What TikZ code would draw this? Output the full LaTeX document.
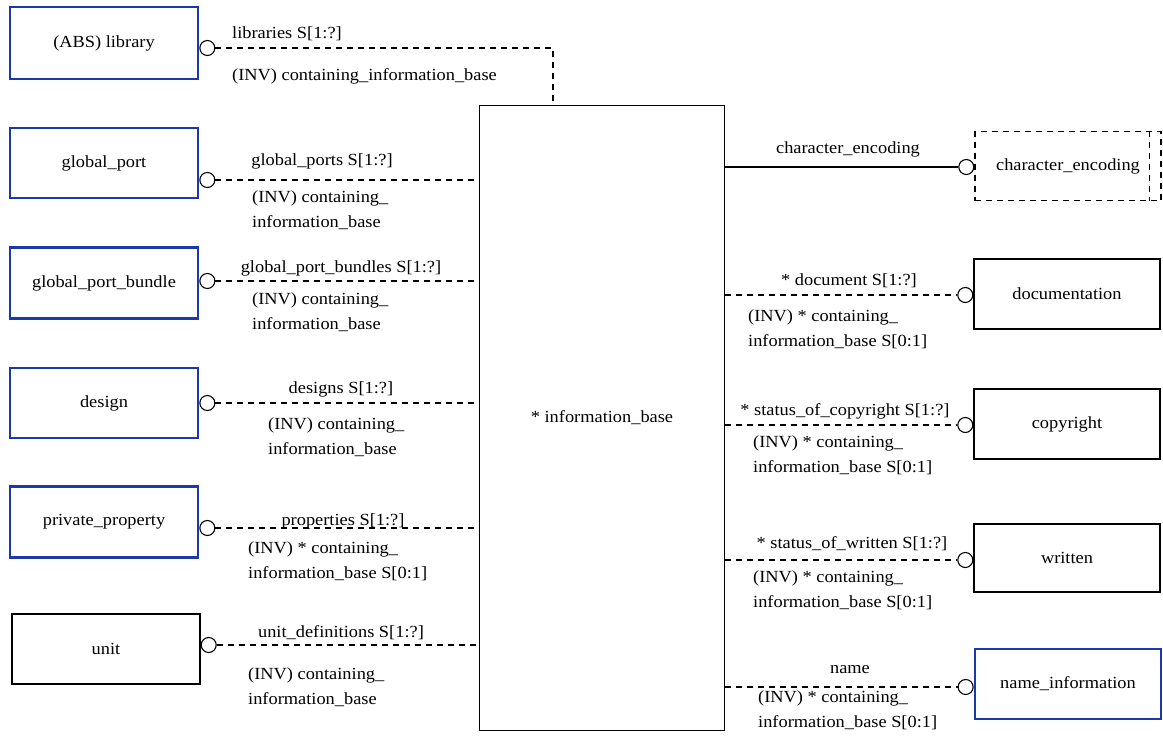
\documentclass[tikz,border=0pt]{standalone}
\usepackage{fontspec}
\setmainfont{Liberation Serif}[FakeStretch=1.08]
\usetikzlibrary{positioning}
\definecolor{entblue}{RGB}{28,56,170}
\tikzstyle{entity} = [rectangle, minimum width=188pt, minimum height=70pt, inner sep=0pt, text centered, draw=entblue, line width=2.6pt, fill=white]
\tikzstyle{plain} = [rectangle, minimum width=186pt, minimum height=70pt, inner sep=0pt, text centered, draw=black, line width=1.3pt, fill=white]
\tikzstyle{ring} = [circle, minimum size=15pt, inner sep=0pt, draw=black, line width=1.1pt, fill=white]
\tikzstyle{rel} = [line width=1.1pt, dash pattern=on 6pt off 5pt]
\tikzstyle{lbl} = [inner sep=0pt, align=left]

\begin{document}
\begin{tikzpicture}[x=1pt, y=-1pt, font=\fontsize{17}{25}\selectfont]
        \useasboundingbox (0,0) rectangle (1163,742);
        % Central entity
        \node (ib) [plain, minimum width=245pt, minimum height=625pt] at (602,418) {* information\_base};

        % Left entities
        \node (lib) [entity, minimum height=72pt] at (104,43) {(ABS) library};
        \node (gp) [entity] at (104,163) {global\_port};
        \node (gpb) [entity, minimum height=71pt] at (104,283) {global\_port\_bundle};
        \node (des) [entity] at (104,403) {design};
        \node (pp) [entity, minimum height=71pt] at (104,522) {private\_property};
        \node (unit) [plain, minimum width=188pt] at (106,649) {unit};

        % Right entities
        \node (ce) [plain, dashed, dash pattern=on 6pt off 5pt, minimum height=69pt] at (1068,166) {character\_encoding\hspace{12pt}};
        \node (doc) [plain] at (1067,294) {documentation};
        \node (copy) [plain] at (1067,424) {copyright};
        \node (writ) [plain, minimum height=68pt] at (1067,558) {written};
        \node (ni) [entity, minimum width=186pt] at (1068,684) {name\_information};
        \draw [line width=1.1pt, dash pattern=on 6pt off 5pt] ([xshift=-12pt]ce.north east) -- ([xshift=-12pt]ce.south east);

        % Rings
        \node (libc) [ring, right=0pt of lib.east, yshift=-5pt] {};
        \node (gpc) [ring, right=0pt of gp.east, yshift=-17pt] {};
        \node (gpbc) [ring, right=0pt of gpb.east, yshift=2pt] {};
        \node (desc) [ring, right=0pt of des.east] {};
        \node (ppc) [ring, right=0pt of pp.east, yshift=-6pt] {};
        \node (unitc) [ring, right=0pt of unit.east, yshift=4pt] {};
        \node (cec) [ring, left=0pt of ce.west, yshift=-1pt] {};
        \node (docc) [ring, left=0pt of doc.west, yshift=-1pt] {};
        \node (copyc) [ring, left=0pt of copy.west, yshift=-1pt] {};
        \node (writc) [ring, left=0pt of writ.west, yshift=-2pt] {};
        \node (nic) [ring, left=0pt of ni.west, yshift=-3pt] {};

        % Relations
        \coordinate (bend) at (553,0 |- libc.east);
        \draw [rel] (libc.east) -- (bend) -- (bend |- ib.north);
        \draw [rel] (gpc.east) -- (gpc.east -| ib.west);
        \draw [rel] (gpbc.east) -- (gpbc.east -| ib.west);
        \draw [rel] (desc.east) -- (desc.east -| ib.west);
        \draw [rel] (ppc.east) -- (ppc.east -| ib.west);
        \draw [rel] (unitc.east) -- (unitc.east -| ib.west);
        \draw [line width=1.1pt] (cec.west -| ib.east) -- (cec.west);
        \draw [rel] (docc.west -| ib.east) -- (docc.west);
        \draw [rel] (copyc.west -| ib.east) -- (copyc.west);
        \draw [rel] (writc.west -| ib.east) -- (writc.west);
        \draw [rel] (nic.west -| ib.east) -- (nic.west);

        % Labels, left
        \node (libl) [lbl, anchor=base west] at (232,38) {libraries S[1:?]};
        \node (libi) [lbl, anchor=base west] at (232,80) {(INV) containing\_information\_base};
        \node (gpl) [lbl, anchor=base] at (322,165) {global\_ports S[1:?]};
        \node (gpi) [lbl, anchor=north west] at (252,191) {(INV) containing\_\\information\_base};
        \node (gpbl) [lbl, anchor=base] at (341,272) {global\_port\_bundles S[1:?]};
        \node (gpbi) [lbl, anchor=north west] at (252,292) {(INV) containing\_\\information\_base};
        \node (desl) [lbl, anchor=base] at (341,393) {designs S[1:?]};
        \node (desi) [lbl, anchor=north west] at (268,417) {(INV) containing\_\\information\_base};
        \node (ppl) [lbl, anchor=base] at (343,525) {properties S[1:?]};
        \node (ppi) [lbl, anchor=north west] at (248,541) {(INV) * containing\_\\information\_base S[0:1]};
        \node (unitl) [lbl, anchor=base] at (341,637) {unit\_definitions S[1:?]};
        \node (uniti) [lbl, anchor=north west] at (248,667) {(INV) containing\_\\information\_base};

        % Labels, right
        \node (cel) [lbl, anchor=base] at (848,153) {character\_encoding};
        \node (docl) [lbl, anchor=base] at (849,285) {* document S[1:?]};
        \node (doci) [lbl, anchor=north west] at (748,310) {(INV) * containing\_\\information\_base S[0:1]};
        \node (copyl) [lbl, anchor=base] at (845,415) {* status\_of\_copyright S[1:?]};
        \node (copyi) [lbl, anchor=north west] at (753,435) {(INV) * containing\_\\information\_base S[0:1]};
        \node (writl) [lbl, anchor=base] at (852,548) {* status\_of\_written S[1:?]};
        \node (writi) [lbl, anchor=north west] at (753,570) {(INV) * containing\_\\information\_base S[0:1]};
        \node (nil) [lbl, anchor=base] at (850,673) {name};
        \node (nii) [lbl, anchor=north west] at (758,690) {(INV) * containing\_\\information\_base S[0:1]};
    \end{tikzpicture}
\end{document}
